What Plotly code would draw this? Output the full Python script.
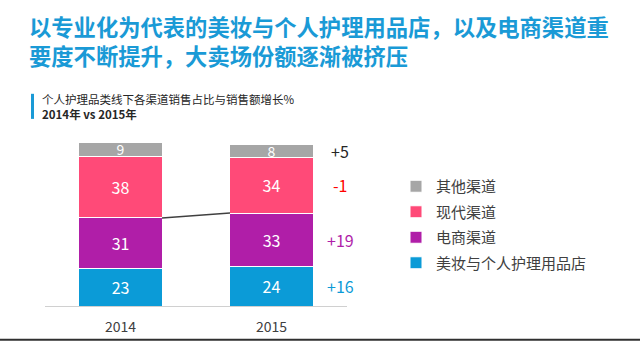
import plotly.graph_objects as go

years = ["2014", "2015"]
series_names = ["美妆与个人护理用品店", "电商渠道", "现代渠道", "其他渠道"]
beauty = [23, 24]
ecommerce = [31, 33]
modern = [38, 34]
other = [9, 8]
growth_labels = ["+16", "+19", "-1", "+5"]
title_line1 = "以专业化为代表的美妆与个人护理用品店，以及电商渠道重"
title_line2 = "要度不断提升，大卖场份额逐渐被挤压"
sub_line1 = "个人护理品类线下各渠道销售占比与销售额增长%"
sub_line2 = "2014年 vs 2015年"

colors = ["#0b9bd7", "#b01ea8", "#ff4a78", "#a6a6a6"]
growth_colors = ["#0b9bd7", "#b01ea8", "#ff0000", "#262626"]
values = [beauty, ecommerce, modern, other]
label_sizes = [16, 16, 16, 14]

W, H = 640, 348
L, R, T, B = 45, 347, 143, 312
FONT = "Noto Sans CJK SC"

def px(x):
    return (x - L) / (R - L)

def py(y):
    return (B - y) / (B - T)

fig = go.Figure()
n = len(series_names)
for i, (name, vals, c, ls) in enumerate(zip(series_names, values, colors, label_sizes)):
    fig.add_trace(go.Bar(
        x=years, y=vals, name=name, legendgroup="g%d" % (n - i), legendrank=n - i,
        marker=dict(color=c, line=dict(color="white", width=1)),
        text=[str(v) for v in vals], textposition="inside", insidetextanchor="middle",
        textangle=0, constraintext="none",
        textfont=dict(color="white", size=ls, family=FONT), width=0.55,
    ))

# growth labels at centers of 2015 segments
cum = 0
for vals, lab, gc in zip(values, growth_labels, growth_colors):
    mid = cum + vals[1] / 2
    cum += vals[1]
    fig.add_annotation(x=px(340), xref="paper", y=mid, yref="y", text=lab, showarrow=False,
                       font=dict(size=16, color=gc, family=FONT), xanchor="center", yanchor="middle")

# connector line between the top of ecommerce segments
fig.add_shape(type="line", xref="x", yref="y",
              x0=0.275, y0=beauty[0] + ecommerce[0], x1=1 - 0.275, y1=beauty[1] + ecommerce[1],
              line=dict(color="#404040", width=1.5))

# titles
fig.add_annotation(x=px(27), xref="paper", y=py(22), yref="paper", text="<b>" + title_line1 + "</b>",
                   showarrow=False, xanchor="left", yanchor="middle",
                   font=dict(size=22.3, color="#1a9ad6", family=FONT))
fig.add_annotation(x=px(27), xref="paper", y=py(52), yref="paper", text="<b>" + title_line2 + "</b>",
                   showarrow=False, xanchor="left", yanchor="middle",
                   font=dict(size=22.3, color="#1a9ad6", family=FONT))
fig.add_annotation(x=px(40), xref="paper", y=py(97), yref="paper", text=sub_line1,
                   showarrow=False, xanchor="left", yanchor="middle",
                   font=dict(size=11.5, color="#262626", family=FONT))
fig.add_annotation(x=px(40), xref="paper", y=py(113), yref="paper", text="<b>" + sub_line2 + "</b>",
                   showarrow=False, xanchor="left", yanchor="middle",
                   font=dict(size=11.5, color="#262626", family=FONT))
fig.add_shape(type="rect", xref="paper", yref="paper", x0=px(31), x1=px(34), y0=py(92), y1=py(118),
              fillcolor="#1a9ad6", line=dict(width=0))
# bottom border
fig.add_shape(type="line", xref="paper", yref="paper", x0=px(0), x1=px(640), y0=py(347), y1=py(347),
              line=dict(color="#303030", width=2))

fig.update_layout(
    width=W, height=H, barmode="stack", bargap=0.45,
    margin=dict(l=L, r=W - R, t=T, b=H - B),
    paper_bgcolor="white", plot_bgcolor="white",
    font=dict(family=FONT),
    legend=dict(xref="container", yref="container", x=396 / W, y=1 - 170 / H, xanchor="left", yanchor="top",
                traceorder="grouped", font=dict(size=15, color="#404040", family=FONT),
                itemwidth=30, tracegroupgap=3, bgcolor="rgba(0,0,0,0)"),
    xaxis=dict(range=[-0.5, 1.5], showline=True, linecolor="#d0d0d0", linewidth=1, ticks="",
               tickfont=dict(size=14, color="#404040", family=FONT), ticklabelstandoff=8),
    yaxis=dict(range=[0, 100], visible=False, showgrid=False),
)
fig.write_html("out.html")
